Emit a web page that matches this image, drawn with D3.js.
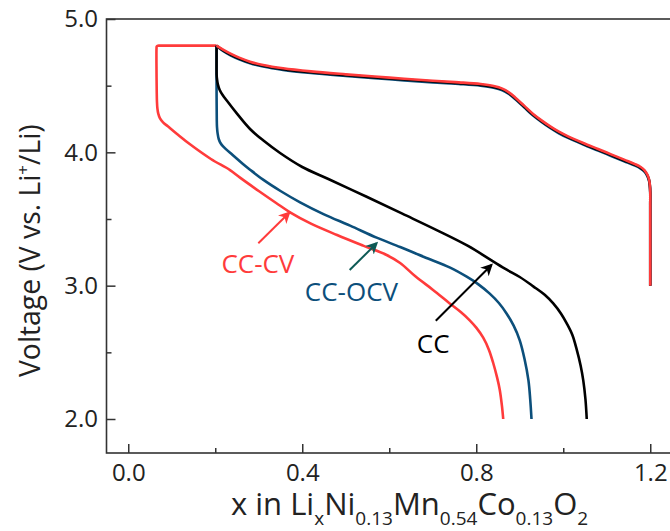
<!DOCTYPE html>
<html>
<head>
<meta charset="utf-8">
<script src="https://cdn.jsdelivr.net/npm/d3@7"></script>
<style>
  html, body { margin: 0; padding: 0; background: #ffffff; }
  svg { display: block; }
</style>
</head>
<body>
<svg id="chart" width="670" height="531"></svg>
<script>
// ---------------- data (x in LixNi0.13Mn0.54Co0.13O2, voltage V) ----------------
const seriesNames = ["CC-CV", "CC-OCV", "CC"];

// charge curves (x from 1.2 down to 0.2)
const chargeCCOCV = [[1.2,3.0],[1.2,3.3],[1.2,3.6],[1.2,3.7],[1.199,3.75],[1.197,3.79],[1.193,3.824],[1.187,3.854],[1.178,3.878],[1.165,3.90],[1.14,3.933],[1.11,3.973],[1.08,4.013],[1.046,4.058],[1.011,4.108],[0.99,4.143],[0.97,4.183],[0.95,4.228],[0.93,4.278],[0.91,4.338],[0.89,4.398],[0.875,4.438],[0.86,4.466],[0.84,4.485],[0.81,4.50],[0.76,4.513],[0.70,4.525],[0.60,4.548],[0.50,4.573],[0.42,4.595],[0.356,4.618],[0.31,4.643],[0.28,4.668],[0.255,4.698],[0.235,4.728],[0.218,4.76],[0.203,4.80]];
const chargeCC    = [[1.2,3.0],[1.2,3.3],[1.2,3.6],[1.2,3.7],[1.199,3.755],[1.197,3.795],[1.193,3.83],[1.187,3.86],[1.178,3.884],[1.165,3.906],[1.14,3.939],[1.11,3.979],[1.08,4.019],[1.046,4.064],[1.011,4.114],[0.99,4.149],[0.97,4.189],[0.95,4.234],[0.93,4.284],[0.91,4.344],[0.89,4.404],[0.875,4.444],[0.86,4.472],[0.84,4.491],[0.81,4.506],[0.76,4.519],[0.70,4.531],[0.60,4.554],[0.50,4.579],[0.42,4.601],[0.356,4.624],[0.31,4.649],[0.28,4.674],[0.255,4.704],[0.235,4.734],[0.218,4.765],[0.203,4.80]];
const chargeCCCV  = [[1.2,3.0],[1.2,3.3],[1.2,3.6],[1.2,3.7],[1.199,3.76],[1.197,3.80],[1.193,3.835],[1.187,3.865],[1.178,3.89],[1.165,3.912],[1.14,3.945],[1.11,3.985],[1.08,4.025],[1.046,4.07],[1.011,4.12],[0.99,4.155],[0.97,4.195],[0.95,4.24],[0.93,4.29],[0.91,4.35],[0.89,4.41],[0.875,4.45],[0.86,4.478],[0.84,4.497],[0.81,4.512],[0.76,4.525],[0.70,4.537],[0.60,4.56],[0.50,4.585],[0.42,4.607],[0.356,4.63],[0.31,4.655],[0.28,4.68],[0.255,4.71],[0.235,4.74],[0.218,4.77],[0.203,4.80]];

// discharge curves
const dischargeCC    = [[0.203,4.80],[0.203,4.75],[0.203,4.62],[0.2032,4.58],[0.204,4.55],[0.206,4.51],[0.21,4.47],[0.217,4.43],[0.226,4.39],[0.25,4.29],[0.28,4.175],[0.31,4.09],[0.349,3.995],[0.40,3.89],[0.46,3.80],[0.548,3.667],[0.63,3.54],[0.709,3.417],[0.78,3.30],[0.835,3.19],[0.87,3.12],[0.90,3.065],[0.931,2.995],[0.958,2.93],[0.977,2.867],[0.995,2.79],[1.008,2.717],[1.021,2.63],[1.031,2.52],[1.04,2.40],[1.046,2.29],[1.051,2.15],[1.054,2.0]];
const dischargeCCOCV = [[0.203,4.80],[0.203,4.75],[0.203,4.50],[0.2035,4.25],[0.204,4.19],[0.2055,4.14],[0.208,4.10],[0.212,4.07],[0.218,4.045],[0.24,3.98],[0.263,3.915],[0.28,3.87],[0.31,3.795],[0.35,3.71],[0.395,3.625],[0.45,3.535],[0.51,3.45],[0.571,3.36],[0.625,3.29],[0.68,3.215],[0.74,3.135],[0.778,3.067],[0.805,3.01],[0.831,2.94],[0.852,2.87],[0.87,2.79],[0.886,2.70],[0.90,2.59],[0.911,2.45],[0.92,2.29],[0.924,2.15],[0.927,2.0]];
const dischargeCCCV  = [[0.203,4.80],[0.19,4.80],[0.10,4.80],[0.075,4.80],[0.068,4.80],[0.0655,4.795],[0.065,4.78],[0.065,4.6],[0.0655,4.45],[0.066,4.38],[0.067,4.33],[0.069,4.29],[0.073,4.255],[0.08,4.225],[0.091,4.195],[0.115,4.13],[0.142,4.06],[0.19,3.95],[0.234,3.867],[0.257,3.81],[0.30,3.71],[0.34,3.62],[0.372,3.55],[0.42,3.465],[0.48,3.38],[0.54,3.30],[0.594,3.23],[0.625,3.17],[0.66,3.07],[0.70,2.97],[0.739,2.867],[0.765,2.80],[0.785,2.74],[0.80,2.685],[0.816,2.61],[0.829,2.52],[0.839,2.42],[0.848,2.31],[0.854,2.22],[0.859,2.10],[0.862,2.0]];

// tick values / labels
const xMajorTicks = [0.0, 0.4, 0.8, 1.2];
const xMinorTicks = [0.2, 0.6, 1.0];
const yMajorTicks = [2.0, 3.0, 4.0, 5.0];
const yMinorTicks = [2.5, 3.5, 4.5];

// annotations: label position (x, V) and arrow from -> to
const labelNames  = ["CC-CV", "CC-OCV", "CC"];
const labelPos    = [[0.298, 3.095], [0.513, 2.887], [0.701, 2.495]];
const arrowFrom   = [[0.299, 3.318], [0.509, 3.117], [0.707, 2.737]];
const arrowTo     = [[0.370, 3.547], [0.571, 3.318], [0.835, 3.155]];

// ---------------- styles ----------------
const colRed = "#ff3b3b", colBlue = "#0c4f7b", colBlack = "#000000", colTeal = "#0e5a55";
const font = "'Open Sans', 'DejaVu Sans', sans-serif";

// ---------------- layout ----------------
const svg = d3.select("#chart");
const pLeft = 106.5, pRight = 672, pTop = 19, pBottom = 453;
const x = d3.scaleLinear().domain([-0.05, 1.25]).range([pLeft, pRight]);
const y = d3.scaleLinear().domain([1.745, 5.0]).range([pBottom, pTop]);

const line = d3.line().x(d => x(d[0])).y(d => y(d[1])).curve(d3.curveCatmullRom.alpha(0.5));

// frame
svg.append("rect").attr("x", pLeft).attr("y", pTop).attr("width", pRight - pLeft).attr("height", pBottom - pTop)
  .attr("fill", "none").attr("stroke", "#333").attr("stroke-width", 1.6);

// axes
function styleAxis(g) {
  g.select(".domain").remove();
  g.selectAll(".tick line").attr("stroke", "#333").attr("stroke-width", 1.5);
  g.selectAll(".tick text").attr("fill", "#222").style("font-family", font).style("font-size", "24px");
}
svg.append("g").attr("transform", `translate(0,${pBottom})`)
  .call(d3.axisBottom(x).tickValues(xMinorTicks).tickSizeInner(-5).tickSizeOuter(0).tickFormat(""))
  .call(styleAxis);
svg.append("g").attr("transform", `translate(0,${pBottom})`)
  .call(d3.axisBottom(x).tickValues(xMajorTicks).tickSizeInner(-9).tickSizeOuter(0).tickPadding(11).tickFormat(d3.format(".1f")))
  .call(styleAxis);
svg.append("g").attr("transform", `translate(${pLeft},0)`)
  .call(d3.axisLeft(y).tickValues(yMinorTicks).tickSizeInner(-5).tickSizeOuter(0).tickFormat(""))
  .call(styleAxis);
svg.append("g").attr("transform", `translate(${pLeft},0)`)
  .call(d3.axisLeft(y).tickValues(yMajorTicks).tickSizeInner(-9).tickSizeOuter(0).tickPadding(8.5).tickFormat(d3.format(".1f")))
  .call(styleAxis);

// curves (draw order: blue, black, red on top for charge)
const curves = [
  {d: dischargeCCCV, c: colRed},
  {d: dischargeCCOCV, c: colBlue},
  {d: dischargeCC, c: colBlack},
  {d: chargeCCOCV, c: colBlue},
  {d: chargeCC, c: colBlack},
  {d: chargeCCCV, c: colRed}
];
svg.append("g").selectAll("path").data(curves).join("path")
  .attr("d", d => line(d.d)).attr("fill", "none")
  .attr("stroke", d => d.c).attr("stroke-width", 2.6)
  .attr("stroke-linejoin", "round").attr("stroke-linecap", "butt");

// arrows
const arrowColors = [colRed, colTeal, colBlack];
const labelColors = [colRed, colBlue, colBlack];
const defs = svg.append("defs");
arrowColors.forEach((c, i) => {
  defs.append("marker").attr("id", "ah" + i).attr("viewBox", "0 0 12 12")
    .attr("refX", 10).attr("refY", 6).attr("markerWidth", 12).attr("markerHeight", 12)
    .attr("markerUnits", "userSpaceOnUse").attr("orient", "auto")
    .append("path").attr("d", "M0,0 L12,6 L0,12 L3.5,6 Z").attr("fill", c);
});
svg.append("g").selectAll("line").data(arrowFrom).join("line")
  .attr("x1", d => x(d[0])).attr("y1", d => y(d[1]))
  .attr("x2", (d, i) => x(arrowTo[i][0])).attr("y2", (d, i) => y(arrowTo[i][1]))
  .attr("stroke", (d, i) => arrowColors[i]).attr("stroke-width", 2)
  .attr("marker-end", (d, i) => `url(#ah${i})`);

// labels
svg.append("g").selectAll("text").data(labelNames).join("text")
  .attr("x", (d, i) => x(labelPos[i][0])).attr("y", (d, i) => y(labelPos[i][1]))
  .attr("text-anchor", "middle").attr("fill", (d, i) => labelColors[i])
  .style("font-family", font).style("font-size", "26px").text(d => d);

// y title (starts at the bottom, reads upward)
const yt = svg.append("text").attr("transform", "translate(40,377) rotate(-90)")
  .attr("text-anchor", "start").attr("fill", "#222")
  .style("font-family", font).style("font-size", "28.3px");
yt.append("tspan").text("Voltage (V vs. Li");
yt.append("tspan").attr("dy", -11).style("font-size", "17px").text("+");
yt.append("tspan").attr("dy", 11).text("/Li)");

// x title
const xt = svg.append("text").attr("x", 231).attr("y", 515).attr("fill", "#222")
  .style("font-family", font).style("font-size", "31px");
const parts = [["x in Li", false], ["x", true], ["Ni", false], ["0.13", true], ["Mn", false], ["0.54", true], ["Co", false], ["0.13", true], ["O", false], ["2", true]];
parts.forEach((p, i) => {
  const t = xt.append("tspan").text(p[0]);
  if (p[1]) t.attr("dy", 10).style("font-size", "19px");
  else if (i > 0) t.attr("dy", -10);
});
</script>
</body>
</html>
